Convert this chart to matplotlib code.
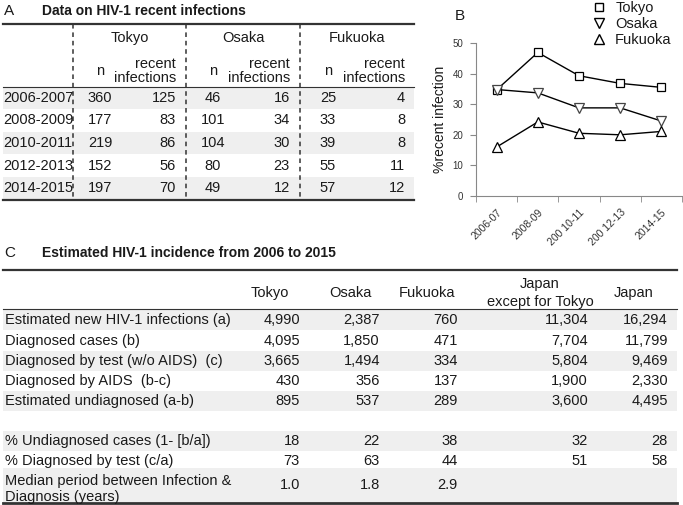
import matplotlib.pyplot as plt
from matplotlib.lines import Line2D

plt.rcParams['font.family'] = ['Liberation Sans', 'DejaVu Sans']

# ---- panel A: recent infections table
years = ['2006-2007', '2008-2009', '2010-2011', '2012-2013', '2014-2015']
cities = ['Tokyo', 'Osaka', 'Fukuoka']
tokyo_n = [360, 177, 219, 152, 197]
tokyo_recent = [125, 83, 86, 56, 70]
osaka_n = [46, 101, 104, 80, 49]
osaka_recent = [16, 34, 30, 23, 12]
fukuoka_n = [25, 33, 39, 55, 57]
fukuoka_recent = [4, 8, 8, 11, 12]

# ---- panel B: % recent infection
periods = ['2006-07', '2008-09', '200 10-11', '200 12-13', '2014-15']
pct_tokyo = [34.7, 46.9, 39.3, 36.8, 35.5]
pct_osaka = [34.8, 33.7, 28.8, 28.8, 24.5]
pct_fukuoka = [16.0, 24.2, 20.5, 20.0, 21.1]

# ---- panel C: incidence table
c_cols = ['Tokyo', 'Osaka', 'Fukuoka', 'Japan\nexcept for Tokyo', 'Japan']
c_labels = ['Estimated new HIV-1 infections (a)', 'Diagnosed cases (b)',
            'Diagnosed by test (w/o AIDS)  (c)', 'Diagnosed by AIDS  (b-c)',
            'Estimated undiagnosed (a-b)', '',
            '% Undiagnosed cases (1- [b/a])', '% Diagnosed by test (c/a)',
            'Median period between Infection &\nDiagnosis (years)']
est_new = [4990, 2387, 760, 11304, 16294]
diagnosed = [4095, 1850, 471, 7704, 11799]
by_test = [3665, 1494, 334, 5804, 9469]
by_aids = [430, 356, 137, 1900, 2330]
undiagnosed = [895, 537, 289, 3600, 4495]
pct_undiag = [18, 22, 38, 32, 28]
pct_test = [73, 63, 44, 51, 58]
median_years = [1.0, 1.8, 2.9, None, None]

fig = plt.figure(figsize=(6.83, 5.05), dpi=100)
bg = fig.add_axes([0, 0, 1, 1])
bg.set_xlim(0, 683)
bg.set_ylim(505, 0)
bg.axis('off')

txt = '#1a1a1a'
fs = 10.5
shade = '#efefef'

# ===== panel A =====
bg.text(4, 11, 'A', fontsize=11, color=txt, va='center')
bg.text(42, 11, 'Data on HIV-1 recent infections', fontsize=10, fontweight='bold',
        color=txt, va='center')
a_rows_y = [98, 120.5, 143, 165.5, 188]
for i, y in enumerate(a_rows_y):
    if i % 2 == 0:
        bg.fill_between([3, 414], y - 11, y + 11, color=shade, lw=0)
bg.plot([3, 414], [24, 24], color='#333333', lw=1.6)
bg.plot([3, 414], [87, 87], color='#333333', lw=0.8)
bg.plot([3, 414], [199.5, 199.5], color='#333333', lw=1.6)
for x in [73, 186, 300]:
    bg.plot([x, x], [24, 200], color='#333333', lw=1.1, ls=(0, (3, 2.5)))

city_x = [130, 243, 357]
n_x = [100, 213, 328]
rec_x = [176, 290, 405]
for cx, nx, rx, name in zip(city_x, n_x, rec_x, cities):
    bg.text(cx, 38, name, fontsize=fs, color=txt, ha='center', va='center')
    bg.text(nx, 71, 'n', fontsize=fs, color=txt, ha='center', va='center')
    bg.text(rx, 71, 'recent\ninfections', fontsize=fs, color=txt, ha='right',
            va='center', linespacing=1.0)

cols_a = [(tokyo_n, tokyo_recent), (osaka_n, osaka_recent), (fukuoka_n, fukuoka_recent)]
for i, y in enumerate(a_rows_y):
    bg.text(3, y, years[i], fontsize=fs, color=txt, va='center')
    for (ns, rs), nx, rx in zip(cols_a, n_x, rec_x):
        bg.text(nx, y, str(ns[i]), fontsize=fs, color=txt, ha='center', va='center')
        bg.text(rx, y, str(rs[i]), fontsize=fs, color=txt, ha='right', va='center')

# ===== panel C =====
bg.text(4, 253, 'C', fontsize=11, color=txt, va='center')
bg.text(42, 253, 'Estimated HIV-1 incidence from 2006 to 2015', fontsize=10,
        fontweight='bold', color=txt, va='center')
c_rows_y = [320, 341, 361, 381, 401, 421, 441, 461, 485]
c_rows = [est_new, diagnosed, by_test, by_aids, undiagnosed, None,
          pct_undiag, pct_test, median_years]
for i, y in enumerate(c_rows_y):
    if i in (0, 2, 4, 6):
        bg.fill_between([3, 677], y - 10, y + 10, color=shade, lw=0)
bg.fill_between([3, 677], 468, 502, color=shade, lw=0)
bg.plot([3, 677], [270, 270], color='#333333', lw=1.6)
bg.plot([3, 677], [309, 309], color='#333333', lw=0.8)
bg.plot([3, 677], [503, 503], color='#333333', lw=2)

head_x = [270, 350, 427, 540, 634]
val_x = [300, 380, 458, 588, 668]
for hx, name in zip(head_x, c_cols):
    bg.text(hx, 293, name, fontsize=fs, color=txt, ha='center', va='center',
            linespacing=1.45)
for label, y, row in zip(c_labels, c_rows_y, c_rows):
    bg.text(5, y + (4 if '\n' in label else 0), label, fontsize=fs, color=txt,
            va='center', linespacing=1.25)
    if row is None:
        continue
    for v, vx in zip(row, val_x):
        if v is None:
            continue
        s = f'{v:.1f}' if isinstance(v, float) else f'{v:,}'
        bg.text(vx, y, s, fontsize=fs, color=txt, ha='right', va='center')

# ===== panel B =====
bg.text(455, 16, 'B', fontsize=11, color=txt, va='center')
ax = fig.add_axes([476 / 683, 1 - 196 / 505, 206 / 683, 153 / 505])
ax.patch.set_alpha(0)
xs = range(len(periods))
ax.plot(xs, pct_tokyo, color='black', lw=1, marker='s', ms=5.5,
        mfc='white', mec='black', mew=0.9)
ax.plot(xs, pct_osaka, color='black', lw=1, marker='v', ms=7,
        mfc='white', mec='#444444', mew=0.9)
ax.plot(xs, pct_fukuoka, color='black', lw=1, marker='^', ms=7,
        mfc='white', mec='black', mew=0.9)
ax.set_xlim(-0.5, len(periods) - 0.5)
ax.set_ylim(0, 50)
ax.set_yticks([0, 10, 20, 30, 40, 50])
ax.set_xticks(list(xs))
ax.set_xticklabels(periods, rotation=45, ha='right', rotation_mode='anchor')
ax.set_xticks([i - 0.5 for i in range(len(periods) + 1)], minor=True)
ax.tick_params(axis='x', which='major', length=0, pad=8, labelsize=7.5, labelcolor='#333333')
ax.tick_params(axis='x', which='minor', length=4, color='#888888', direction='out')
ax.tick_params(axis='y', length=4, color='#888888', direction='out', labelsize=7,
               labelcolor='#333333', pad=5)
for side in ['top', 'right']:
    ax.spines[side].set_visible(False)
for side in ['left', 'bottom']:
    ax.spines[side].set_color('#888888')
ax.set_ylabel('%recent infection', fontsize=10, color=txt, labelpad=4)

handles = [Line2D([], [], ls='none', marker='s', ms=6, mfc='white', mec='black'),
           Line2D([], [], ls='none', marker='v', ms=7, mfc='white', mec='black'),
           Line2D([], [], ls='none', marker='^', ms=7, mfc='white', mec='black')]
fig.legend(handles, cities, loc='upper left', bbox_to_anchor=(586 / 683, 1.01),
           frameon=False, fontsize=fs, handlelength=1.0, handletextpad=0.6,
           labelspacing=0.15, borderaxespad=0, labelcolor=txt)

fig.savefig('out.png', dpi=100)
